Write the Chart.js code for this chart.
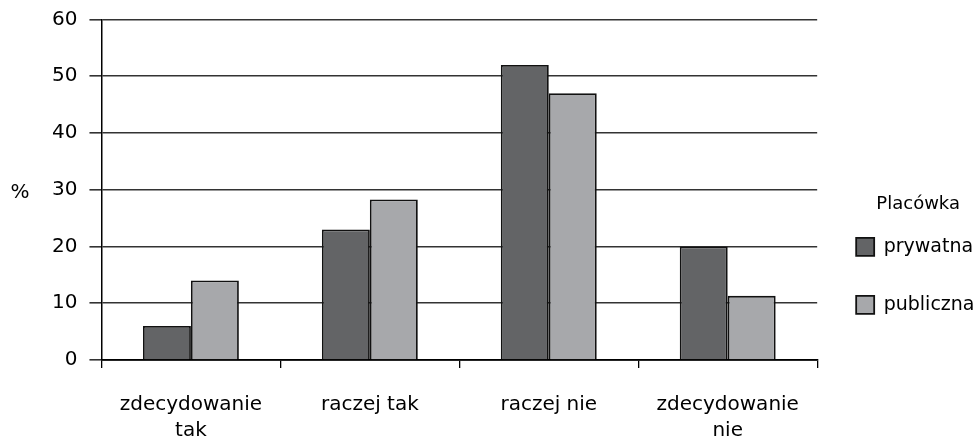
<!DOCTYPE html>
<html>
<head>
<meta charset="utf-8">
<script src="https://cdn.jsdelivr.net/npm/chart.js@4/dist/chart.umd.min.js"></script>
<style>
  html, body { margin: 0; padding: 0; background: #fff; }
  #wrap { width: 980px; height: 442px; position: relative; }
</style>
</head>
<body>
<div id="wrap"><canvas id="placowkaChart"></canvas></div>
<script>
const categories = [['zdecydowanie', 'tak'], 'raczej tak', 'raczej nie', ['zdecydowanie', 'nie']];
const prywatna = [6, 23, 52, 20];
const publiczna = [14, 28.3, 47, 11.3];
const yTicks = [0, 10, 20, 30, 40, 50, 60];
const legendTitle = 'Placówka';

// "%" drawn horizontally left of the y axis, legend title drawn above the items
const extraText = {
  id: 'extraText',
  afterDraw(chart) {
    const c = chart.ctx;
    const area = chart.chartArea;
    c.save();
    c.fillStyle = '#000';
    c.textAlign = 'center';
    c.textBaseline = 'middle';
    c.font = '20px "DejaVu Sans"';
    c.fillText('%', 20, (area.top + area.bottom) / 2 + 3);
    const boxes = chart.legend.legendHitBoxes;
    if (boxes && boxes.length) {
      const b = boxes[0];
      c.font = '18px "DejaVu Sans"';
      c.fillText(legendTitle, b.left + 62, b.top - 33);
    }
    c.restore();
  }
};

const ctx = document.getElementById('placowkaChart').getContext('2d');

const chart = new Chart(ctx, {
  type: 'bar',
  data: {
    labels: categories,
    datasets: [{
      label: 'prywatna',
      data: prywatna,
      backgroundColor: '#636466',
      borderColor: '#111',
      borderWidth: 1.8,
      categoryPercentage: 0.536,
      barPercentage: 1
    }, {
      label: 'publiczna',
      data: publiczna,
      backgroundColor: '#a7a8ab',
      borderColor: '#111',
      borderWidth: 1.8,
      categoryPercentage: 0.536,
      barPercentage: 1
    }]
  },
  options: {
    responsive: true,
    maintainAspectRatio: false,
    animation: false,
    layout: { padding: { left: 40, top: 0, right: -4.5, bottom: -26 } },
    plugins: {
      tooltip: { enabled: false },
      legend: {
        position: 'right',
        // invisible title only pushes the items down; real title drawn by plugin
        title: {
          display: true,
          text: legendTitle,
          color: 'rgba(0,0,0,0)',
          font: { family: 'DejaVu Sans', size: 18 },
          padding: { top: 62, bottom: 0 }
        },
        labels: {
          color: '#000',
          font: { family: 'DejaVu Sans', size: 19 },
          boxWidth: 18,
          boxHeight: 18,
          padding: 39
        }
      }
    },
    scales: {
      x: {
        grid: {
          display: true,
          drawOnChartArea: false,
          offset: true,
          color: '#000',
          tickLength: 8,
          lineWidth: 1.3
        },
        border: { display: true, color: '#000', width: 1.8 },
        ticks: {
          color: '#000',
          font: { family: 'DejaVu Sans', size: 20, lineHeight: 1.3 },
          padding: 24,
          maxRotation: 0
        }
      },
      y: {
        min: 0,
        max: 60,
        afterBuildTicks(axis) {
          axis.ticks = yTicks.map(v => ({ value: v }));
        },
        grid: {
          color: '#333',
          lineWidth: 1.6,
          tickLength: 12
        },
        border: { display: true, color: '#000', width: 1.5 },
        ticks: {
          color: '#000',
          font: { family: 'DejaVu Sans', size: 20, lineHeight: 0.75 },
          padding: 12
        }
      }
    }
  },
  plugins: [extraText]
});
</script>
</body>
</html>
